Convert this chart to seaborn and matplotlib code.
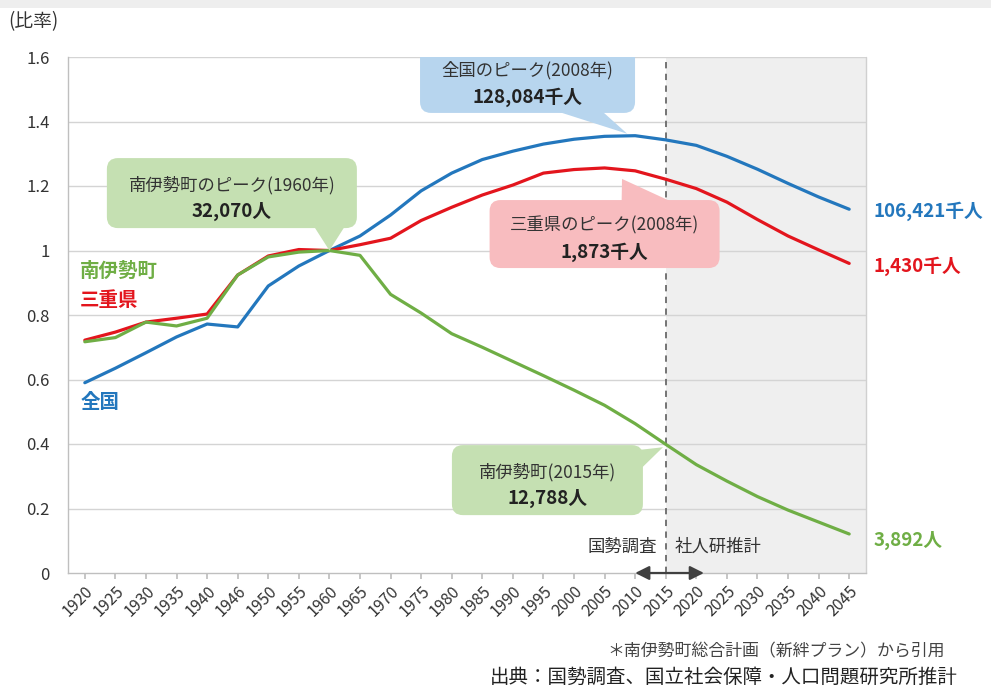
import numpy as np
import pandas as pd
import matplotlib
matplotlib.use("Agg")
import matplotlib.pyplot as plt
import seaborn as sns
from matplotlib.patches import FancyBboxPatch, Polygon
from matplotlib.transforms import IdentityTransform

# ---------------- data ----------------
years = ["1920", "1925", "1930", "1935", "1940", "1946", "1950", "1955", "1960",
         "1965", "1970", "1975", "1980", "1985", "1990", "1995", "2000", "2005",
         "2010", "2015", "2020", "2025", "2030", "2035", "2040", "2045"]
zenkoku = [0.59, 0.635, 0.683, 0.732, 0.772, 0.763, 0.89, 0.952, 1.0,
           1.045, 1.11, 1.185, 1.24, 1.282, 1.308, 1.33, 1.345, 1.354,
           1.356, 1.343, 1.326, 1.292, 1.252, 1.208, 1.166, 1.128]
mie = [0.722, 0.747, 0.778, 0.79, 0.803, 0.924, 0.983, 1.003, 1.0,
       1.018, 1.038, 1.093, 1.134, 1.172, 1.203, 1.24, 1.251, 1.256,
       1.247, 1.221, 1.192, 1.15, 1.096, 1.045, 1.002, 0.96]
minamiise = [0.717, 0.73, 0.778, 0.766, 0.79, 0.924, 0.98, 0.995, 1.0,
             0.985, 0.864, 0.806, 0.742, 0.70, 0.656, 0.612, 0.567, 0.52,
             0.463, 0.399, 0.336, 0.285, 0.237, 0.195, 0.158, 0.121]
series_names = ["全国", "三重県", "南伊勢町"]
yticks = [0, 0.2, 0.4, 0.6, 0.8, 1, 1.2, 1.4, 1.6]
ytick_labels = ["0", "0.2", "0.4", "0.6", "0.8", "1", "1.2", "1.4", "1.6"]
end_labels = ["106,421千人", "1,430千人", "3,892人"]
split_index = 19  # 2015

BLUE = "#2377bd"
RED = "#e3151d"
GREEN = "#6fae45"
colors = {"全国": BLUE, "三重県": RED, "南伊勢町": GREEN}

df = pd.DataFrame({
    "idx": list(range(len(years))) * 3,
    "value": zenkoku + mie + minamiise,
    "series": [s for s in series_names for _ in years],
})

# ---------------- figure ----------------
sns.set_theme(style="white")
plt.rcParams["font.family"] = ["Noto Sans CJK JP", "DejaVu Sans"]

fig = plt.figure(figsize=(9.91, 6.88), dpi=100)
fig.patches.append(plt.Rectangle((0, 1 - 8 / 688), 1, 8 / 688, transform=fig.transFigure,
                                 facecolor="#eeeeee", edgecolor="none", zorder=0))
ax = fig.add_axes([68 / 991, 115 / 688, (866 - 68) / 991, (573 - 57) / 688])

ax.set_xlim(-0.55, len(years) - 0.45)
ax.set_ylim(0, 1.6)

# shaded projection region
ax.axvspan(split_index, len(years) - 0.45, facecolor="#efefef", edgecolor="none", zorder=0)
ax.axvline(split_index, color="#6a6a6a", lw=1.3, ls=(0, (3.5, 3)), zorder=1)

for y in yticks[1:]:
    ax.axhline(y, color="#d4d4d4", lw=1.0, zorder=0.5)

sns.lineplot(data=df, x="idx", y="value", hue="series", palette=colors,
             hue_order=series_names, lw=2.3, ax=ax, legend=False, zorder=3)

ax.set_xlim(-0.55, len(years) - 0.45)
ax.set_ylim(0, 1.6)
ax.set_yticks(yticks)
ax.set_yticklabels(ytick_labels, fontsize=12, color="#333333")
ax.set_xticks(range(len(years)))
ax.set_xticklabels(years, rotation=45, ha="right", rotation_mode="anchor",
                   fontsize=11.5, color="#333333")
ax.tick_params(axis="x", length=4, color="#bfbfbf", pad=3, bottom=True)
ax.tick_params(axis="y", length=0, pad=13)
ax.set_xlabel("")
ax.set_ylabel("")
for s in ["top", "right"]:
    ax.spines[s].set_visible(False)
for s in ["left", "bottom"]:
    ax.spines[s].set_color("#bfbfbf")
    ax.spines[s].set_linewidth(1.0)
ax.plot([1, 1], [0, 1], transform=ax.transAxes, color="#d0d0d0", lw=1.0, clip_on=False)

fig.text(8 / 991, 1 - 22 / 688, "(比率)", fontsize=13.5, color="#333333", va="center")

# series labels at left
ax.text(-0.15, 0.935, "南伊勢町", color=GREEN, fontsize=14, fontweight="bold", va="center")
ax.text(-0.15, 0.845, "三重県", color=RED, fontsize=14, fontweight="bold", va="center")
ax.text(-0.15, 0.53, "全国", color=BLUE, fontsize=14, fontweight="bold", va="center")

# end labels
last = [zenkoku[-1], mie[-1], minamiise[-1]]
offs = [-0.005, -0.01, -0.02]
for lab, v, c, o in zip(end_labels, last, [BLUE, RED, GREEN], offs):
    ax.text(len(years) - 0.2, v + o, lab, color=c, fontsize=13.5, fontweight="bold",
            va="center", ha="left", clip_on=False)


def callout(text1, text2, center, size, base, tip, fc):
    """Rounded box with a pointer; center/tip in data, size/base offsets in pixels."""
    cx, cy = ax.transData.transform(center)
    w, h = size
    tx, ty = ax.transData.transform(tip)
    tail = Polygon([(cx + base[0][0], cy + base[0][1]), (cx + base[1][0], cy + base[1][1]),
                    (tx, ty)], closed=True, fc=fc, ec="none", zorder=5,
                   transform=IdentityTransform())
    ax.add_patch(tail)
    box = FancyBboxPatch((cx - w / 2, cy - h / 2), w, h,
                         boxstyle="round,pad=0,rounding_size=11",
                         fc=fc, ec="none", zorder=5, transform=IdentityTransform())
    ax.add_patch(box)
    ax.annotate(text1, xy=center, xytext=(0, 6), textcoords="offset points",
                ha="center", va="center", fontsize=12.5, color="#333333", zorder=6)
    ax.annotate(text2, xy=center, xytext=(0, -13), textcoords="offset points",
                ha="center", va="center", fontsize=13.5, fontweight="bold",
                color="#222222", zorder=6)


callout("全国のピーク(2008年)", "128,084千人", (14.48, 1.532), (215, 68),
        [(22, -30), (72, -30)], (17.74, 1.362), "#b7d5ee")
callout("南伊勢町のピーク(1960年)", "32,070人", (4.81, 1.178), (250, 70),
        [(80, -30), (115, -30)], (8.0, 1.0), "#c5e0b2")
callout("三重県のピーク(2008年)", "1,873千人", (17.0, 1.051), (230, 68),
        [(17, 30), (72, 30)], (17.57, 1.222), "#f8bcbf")
callout("南伊勢町(2015年)", "12,788人", (15.13, 0.288), (191, 70),
        [(90, 30), (90, 8)], (18.91, 0.39), "#c5e0b2")

# survey / projection labels
ax.text(split_index - 0.3, 0.08, "国勢調査", ha="right", va="center", fontsize=12.5, color="#333333")
ax.text(split_index + 0.3, 0.08, "社人研推計", ha="left", va="center", fontsize=12.5, color="#333333")
for end in (split_index - 1.0, split_index + 1.25):
    ax.annotate("", xy=(end, 0.0), xytext=(split_index, 0.0),
                arrowprops=dict(arrowstyle="-|>,head_width=0.35,head_length=0.7", color="#404040",
                                lw=1.6, shrinkA=0, shrinkB=0),
                annotation_clip=False, zorder=6)

fig.text(945 / 991, 1 - 651 / 688, "＊南伊勢町総合計画（新絆プラン）から引用",
         ha="right", va="center", fontsize=12.2, color="#444444")
fig.text(958 / 991, 1 - 677 / 688, "出典：国勢調査、国立社会保障・人口問題研究所推計",
         ha="right", va="center", fontsize=14, color="#222222")

fig.savefig("out.png", dpi=100)
